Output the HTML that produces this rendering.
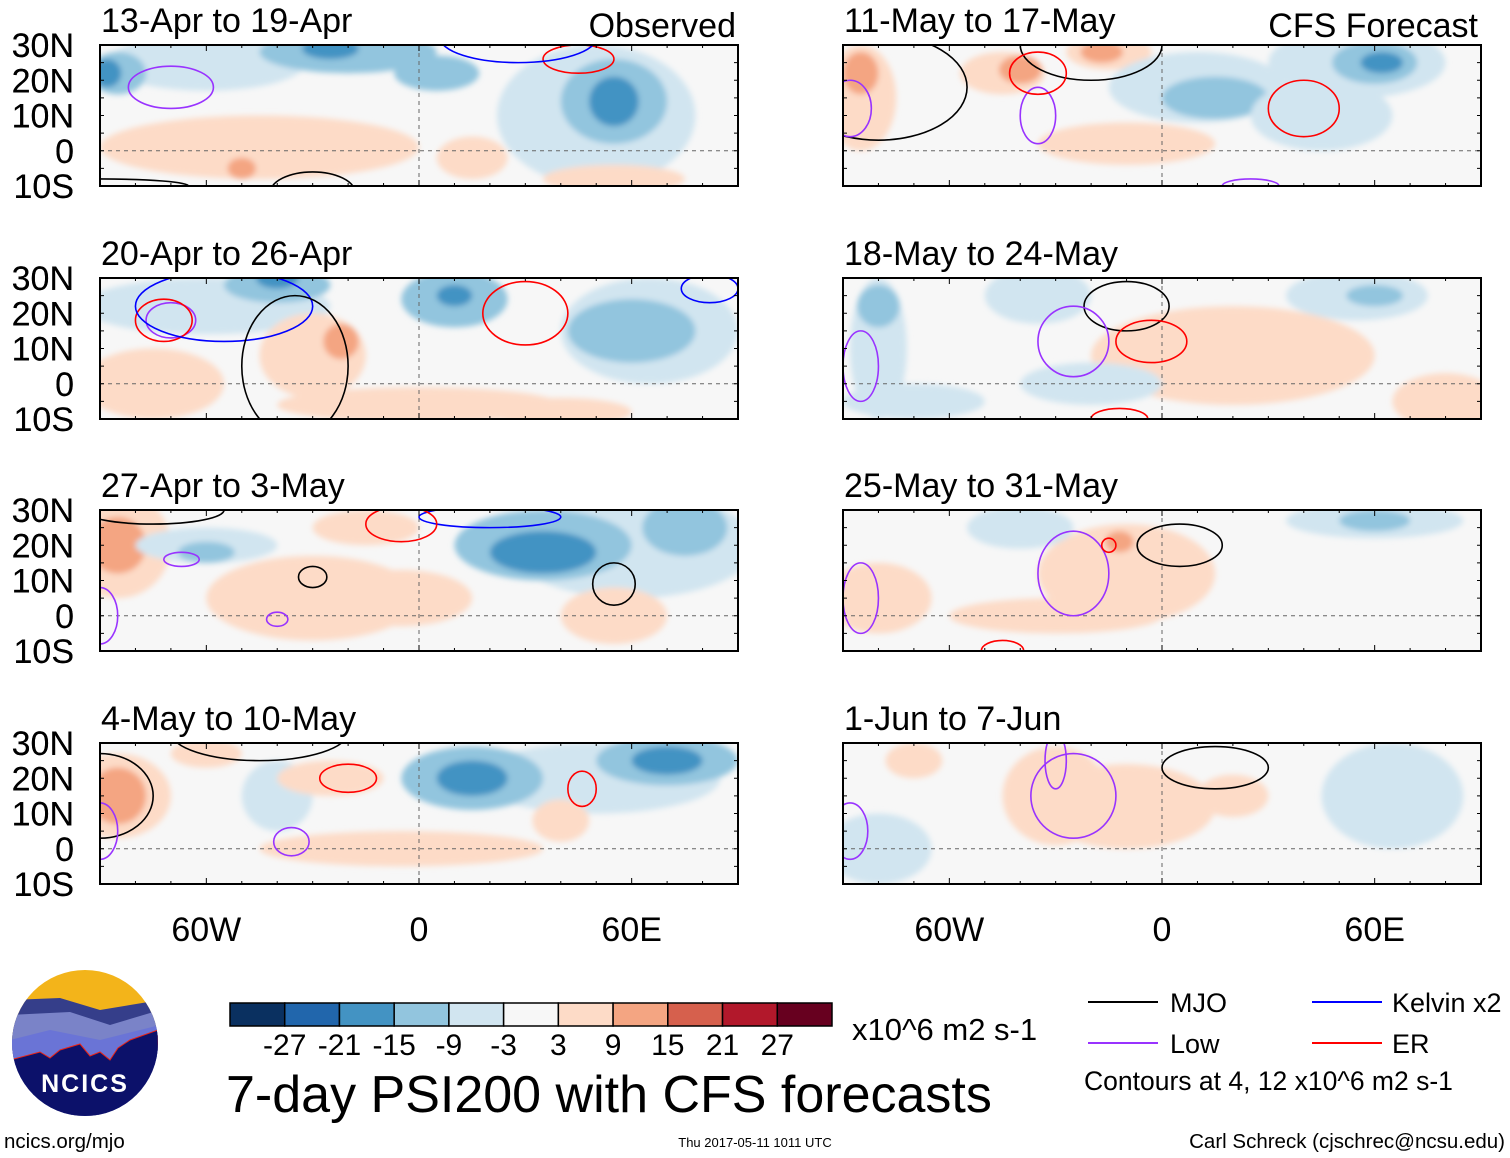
<!DOCTYPE html>
<html><head><meta charset="utf-8">
<style>
body{margin:0;background:#fff;width:1510px;height:1158px;overflow:hidden;font-family:"Liberation Sans",sans-serif;}
svg{position:absolute;left:0;top:0}
</style></head>
<body>
<svg id="fig" width="1510" height="1158" viewBox="0 0 1510 1158">
<defs><filter id="bl" x="-20%" y="-20%" width="140%" height="140%"><feGaussianBlur stdDeviation="3"/></filter></defs>
</svg>
<script>
// panel titles
const titles = ["13-Apr to 19-Apr","20-Apr to 26-Apr","27-Apr to 3-May","4-May to 10-May","11-May to 17-May","18-May to 24-May","25-May to 31-May","1-Jun to 7-Jun"];
const latTicks = ["30N","20N","10N","0","10S"];
const latVals = [30,20,10,0,-10];
const lonTicks = ["60W","0","60E"];
const lonVals = [-60,0,60];
// fill anomalies: [lon, lat, rLon, rLat, value]
const fills0 = [[-60,25,28,8,-3],[-20,28,25,6,-9],[-25,29,8,3,-15],[-85,22,8,6,-9],[-88,22,4,4,-15],[5,22,12,5,-9],[50,10,28,20,-3],[55,14,15,12,-9],[55,14,7,7,-15],[-45,1,45,9,3],[-50,-5,4,3,9],[15,-2,10,6,3],[55,-8,20,4,3]];
const fills1 = [[-60,22,35,8,-3],[-40,28,15,5,-9],[-40,30,6,3,-15],[10,24,15,8,-9],[10,25,5,3,-15],[65,15,25,15,-3],[60,15,18,9,-9],[-30,8,15,12,3],[-22,12,5,5,9],[-75,0,20,10,3],[0,-6,40,5,3],[40,-8,20,4,3]];
const fills2 = [[-85,20,15,15,3],[-85,20,8,8,9],[-60,20,20,5,-3],[-60,18,8,3,-9],[60,20,35,15,-3],[35,20,25,10,-9],[35,18,15,6,-15],[75,25,12,8,-9],[-30,5,30,12,3],[-15,25,15,5,3],[-5,5,20,8,3],[55,0,15,8,3]];
const fills3 = [[-85,15,15,12,3],[-85,15,8,8,9],[-40,15,10,10,-3],[50,20,35,10,-3],[15,20,20,9,-9],[15,20,10,5,-15],[70,25,20,7,-9],[70,25,10,4,-15],[-25,20,15,5,3],[40,8,8,6,3],[-5,0,40,5,3],[-60,27,10,4,3]];
const fills4 = [[-85,15,10,15,3],[-85,22,5,6,9],[-45,22,12,6,3],[-40,23,6,4,9],[-15,28,12,5,3],[-17,28,6,3,9],[10,18,25,10,-3],[15,15,15,6,-9],[55,25,25,10,-3],[60,25,12,6,-9],[62,25,6,3,-15],[-10,2,25,6,3],[45,10,20,10,-3]];
const fills5 = [[-80,10,8,20,-3],[-80,22,6,6,-9],[-35,25,15,8,-3],[55,25,20,7,-3],[60,25,8,3,-9],[20,8,40,14,3],[0,10,15,8,3],[80,-5,15,8,3],[-20,0,20,6,-3],[-70,-5,20,5,-3]];
const fills6 = [[-10,12,25,14,3],[-12,21,4,3,9],[-40,25,15,6,-3],[60,27,25,5,-3],[60,27,10,3,-9],[-80,5,15,10,3],[-30,0,30,5,3]];
const fills7 = [[-30,15,15,14,3],[-10,12,25,12,3],[-70,25,8,5,3],[65,15,20,15,-3],[-80,0,15,10,-3],[20,15,10,6,3]];
// contours: [lon, lat, rLon, rLat, type]
const cont0 = [[-70,18,12,6,'low'],[-30,-12,12,6,'mjo'],[-90,-10,25,2,'mjo'],[45,26,10,4,'er'],[28,32,22,7,'kelvin'],[58,-12,8,2,'mjo']];
const cont1 = [[-70,18,7,5,'low'],[-72,18,8,6,'er'],[-55,22,25,10,'kelvin'],[-35,5,15,20,'mjo'],[30,20,12,9,'er'],[82,27,8,4,'kelvin']];
const cont2 = [[-75,30,20,4,'mjo'],[-30,11,4,3,'mjo'],[55,9,6,6,'mjo'],[20,28,20,3,'kelvin'],[-5,26,10,5,'er'],[-67,16,5,2,'low'],[-40,-1,3,2,'low'],[-90,0,5,8,'low']];
const cont3 = [[-90,15,15,12,'mjo'],[-45,33,25,8,'mjo'],[-20,20,8,4,'er'],[46,17,4,5,'er'],[-36,2,5,4,'low'],[-90,5,5,8,'low']];
const cont4 = [[-80,18,25,15,'mjo'],[-20,30,20,10,'mjo'],[-35,10,5,8,'low'],[-88,12,6,8,'low'],[-35,22,8,6,'er'],[40,12,10,8,'er'],[25,-10,8,2,'low']];
const cont5 = [[-10,22,12,7,'mjo'],[-25,12,10,10,'low'],[-3,12,10,6,'er'],[-12,-10,8,3,'er'],[-85,5,5,10,'low']];
const cont6 = [[5,20,12,6,'mjo'],[-25,12,10,12,'low'],[-15,20,2,2,'er'],[-45,-10,6,3,'er'],[-85,5,5,10,'low']];
const cont7 = [[15,23,15,6,'mjo'],[-25,15,12,12,'low'],[-30,25,3,8,'low'],[-88,5,5,8,'low']];
const allFills=[fills0,fills1,fills2,fills3,fills4,fills5,fills6,fills7];
const allCont=[cont0,cont1,cont2,cont3,cont4,cont5,cont6,cont7];

const NS="http://www.w3.org/2000/svg";
const svg=document.getElementById('fig');
function mk(tag,attrs,parent){const e=document.createElementNS(NS,tag);for(const k in attrs)e.setAttribute(k,attrs[k]);(parent||svg).appendChild(e);return e;}
function colorOf(v){
  if(v<=-27)return'#0a3060';if(v<=-21)return'#2166ac';if(v<=-15)return'#4393c3';if(v<=-9)return'#92c5de';if(v<=-3)return'#d1e5f0';
  if(v>=27)return'#67001f';if(v>=21)return'#b2182b';if(v>=15)return'#d6604d';if(v>=9)return'#f4a582';if(v>=3)return'#fddbc7';return'#f7f7f7';}
const cCol={mjo:'#000',low:'#9933ff',kelvin:'#0000ff',er:'#ff0000'};
const PW=638,PH=141;
for(let i=0;i<8;i++){
  const x0=i<4?100:843, y0=[45,278,510,743][i%4];
  const sx=lon=>x0+(lon+90)*PW/180;
  const sy=lat=>y0+(30-lat)*PH/40;
  const g=mk('g',{});
  
  
  mk('clipPath',{id:'c'+i},g);
  mk('rect',{x:x0,y:y0,width:PW,height:PH},g.lastChild);
  mk('rect',{x:x0,y:y0,width:PW,height:PH,fill:'#f7f7f7'},g);
  const fg=mk('g',{'clip-path':'url(#c'+i+')'},g);
  const fb=mk('g',{filter:'url(#bl)'},fg);
  allFills[i].forEach(f=>{
    const e=mk('ellipse',{cx:sx(f[0]),cy:sy(f[1]),rx:f[2]*PW/180,ry:f[3]*PH/40,fill:colorOf(f[4])},fb);
    
    
  });
  mk('line',{x1:x0,x2:x0+PW,y1:sy(0),y2:sy(0),stroke:'#666','stroke-dasharray':'4,4'},fg);
  mk('line',{x1:sx(0),x2:sx(0),y1:y0,y2:y0+PH,stroke:'#666','stroke-dasharray':'4,4'},fg);
  allCont[i].forEach(c=>{
    const e=mk('ellipse',{cx:sx(c[0]),cy:sy(c[1]),rx:c[2]*PW/180,ry:c[3]*PH/40,fill:'none',stroke:cCol[c[4]],'stroke-width':1.6},fg);
    
    
  });
  mk('rect',{x:x0,y:y0,width:PW,height:PH,fill:'none',stroke:'#000','stroke-width':2},g);
  for(let l=-90;l<=90;l+=10){
    const big=l%60===0;
    mk('line',{x1:sx(l),x2:sx(l),y1:y0,y2:y0+(big?6:3),stroke:'#000'},g);
    mk('line',{x1:sx(l),x2:sx(l),y1:y0+PH,y2:y0+PH-(big?6:3),stroke:'#000'},g);
  }
  for(let la=-10;la<=30;la+=5){
    mk('line',{x1:x0,x2:x0+4,y1:sy(la),y2:sy(la),stroke:'#000'},g);
    mk('line',{x1:x0+PW,x2:x0+PW-4,y1:sy(la),y2:sy(la),stroke:'#000'},g);
  }
  const t=mk('text',{x:x0+1,y:y0-13,'font-size':34},g);t.textContent=titles[i];
  
  
  latVals.forEach((la,k)=>{const tt=mk('text',{x:74,y:sy(la)+12,'font-size':34,'text-anchor':'end'},g);tt.textContent=latTicks[k];
    
    });
  if(i%4===3){lonVals.forEach((lo,k)=>{const tt=mk('text',{x:sx(lo),y:941,'font-size':34,'text-anchor':'middle'},g);tt.textContent=lonTicks[k];
    
    });}
}
let t1=mk('text',{x:736,y:37,'font-size':34,'text-anchor':'end'});t1.textContent='Observed';

let t2=mk('text',{x:1478,y:37,'font-size':34,'text-anchor':'end'});t2.textContent='CFS Forecast';

// colorbar
const cbVals=[-30,-24,-18,-12,-6,0,6,12,18,24,30];
const cbLabels=["-27","-21","-15","-9","-3","3","9","15","21","27"];
const cbg=mk('g',{});

const bw=(832-230)/11;
cbVals.forEach((v,k)=>mk('rect',{x:230+k*bw,y:1003,width:bw,height:23,fill:colorOf(v),stroke:'#000','stroke-width':1.5},cbg));
cbLabels.forEach((l,k)=>{const tt=mk('text',{x:230+(k+1)*bw,y:1055,'font-size':30,'text-anchor':'middle'},cbg);tt.textContent=l;});
</script>
<svg width="1510" height="1158" style="pointer-events:none">
<text x="852" y="1040" font-size="31" font-family="Liberation Sans">x10^6 m2 s-1</text>
<text x="226" y="1112" font-size="52" font-family="Liberation Sans">7-day PSI200 with CFS forecasts</text>
<g font-family="Liberation Sans" font-size="27">
<line x1="1088" y1="1002" x2="1158" y2="1002" stroke="#000" stroke-width="2"/><text x="1170" y="1012">MJO</text>
<line x1="1312" y1="1002" x2="1382" y2="1002" stroke="#0000ff" stroke-width="2"/><text x="1392" y="1012">Kelvin x2</text>
<line x1="1088" y1="1043" x2="1158" y2="1043" stroke="#9933ff" stroke-width="2"/><text x="1170" y="1053">Low</text>
<line x1="1312" y1="1043" x2="1382" y2="1043" stroke="#ff0000" stroke-width="2"/><text x="1392" y="1053">ER</text>
<text x="1084" y="1090" font-size="26.5">Contours at 4, 12 x10^6 m2 s-1</text>
</g>
<g>
<clipPath id="lc"><circle cx="85" cy="1043" r="73"/></clipPath>
<g clip-path="url(#lc)">
<rect x="10" y="968" width="150" height="150" fill="#f3b41a"/>
<path d="M10 1000 L60 998 L100 1010 L160 1000 L160 1120 L10 1120Z" fill="#353e8a"/>
<path d="M10 1015 L70 1012 L110 1025 L160 1010 L160 1120 L10 1120Z" fill="#7a83c8"/>
<path d="M10 1040 L50 1030 L100 1040 L160 1025 L160 1120 L10 1120Z" fill="#6a74d6"/>
<path d="M10 1060 L40 1052 L50 1058 L60 1050 L80 1044 L90 1056 L100 1052 L110 1060 L118 1048 L130 1040 L158 1030 L160 1120 L10 1120Z" fill="#0c116a" stroke="#e21" stroke-width="1"/>
</g>
<text x="85" y="1092" font-size="25" font-weight="bold" fill="#fff" text-anchor="middle" font-family="Liberation Sans" letter-spacing="2">NCICS</text>
</g>
<text x="4" y="1148" font-size="20.5" font-family="Liberation Sans">ncics.org/mjo</text>
<text x="755" y="1147" font-size="13" text-anchor="middle" font-family="Liberation Sans">Thu 2017-05-11 1011 UTC</text>
<text x="1505" y="1148" font-size="20.5" text-anchor="end" font-family="Liberation Sans">Carl Schreck (cjschrec@ncsu.edu)</text>
</svg>
</body></html>
